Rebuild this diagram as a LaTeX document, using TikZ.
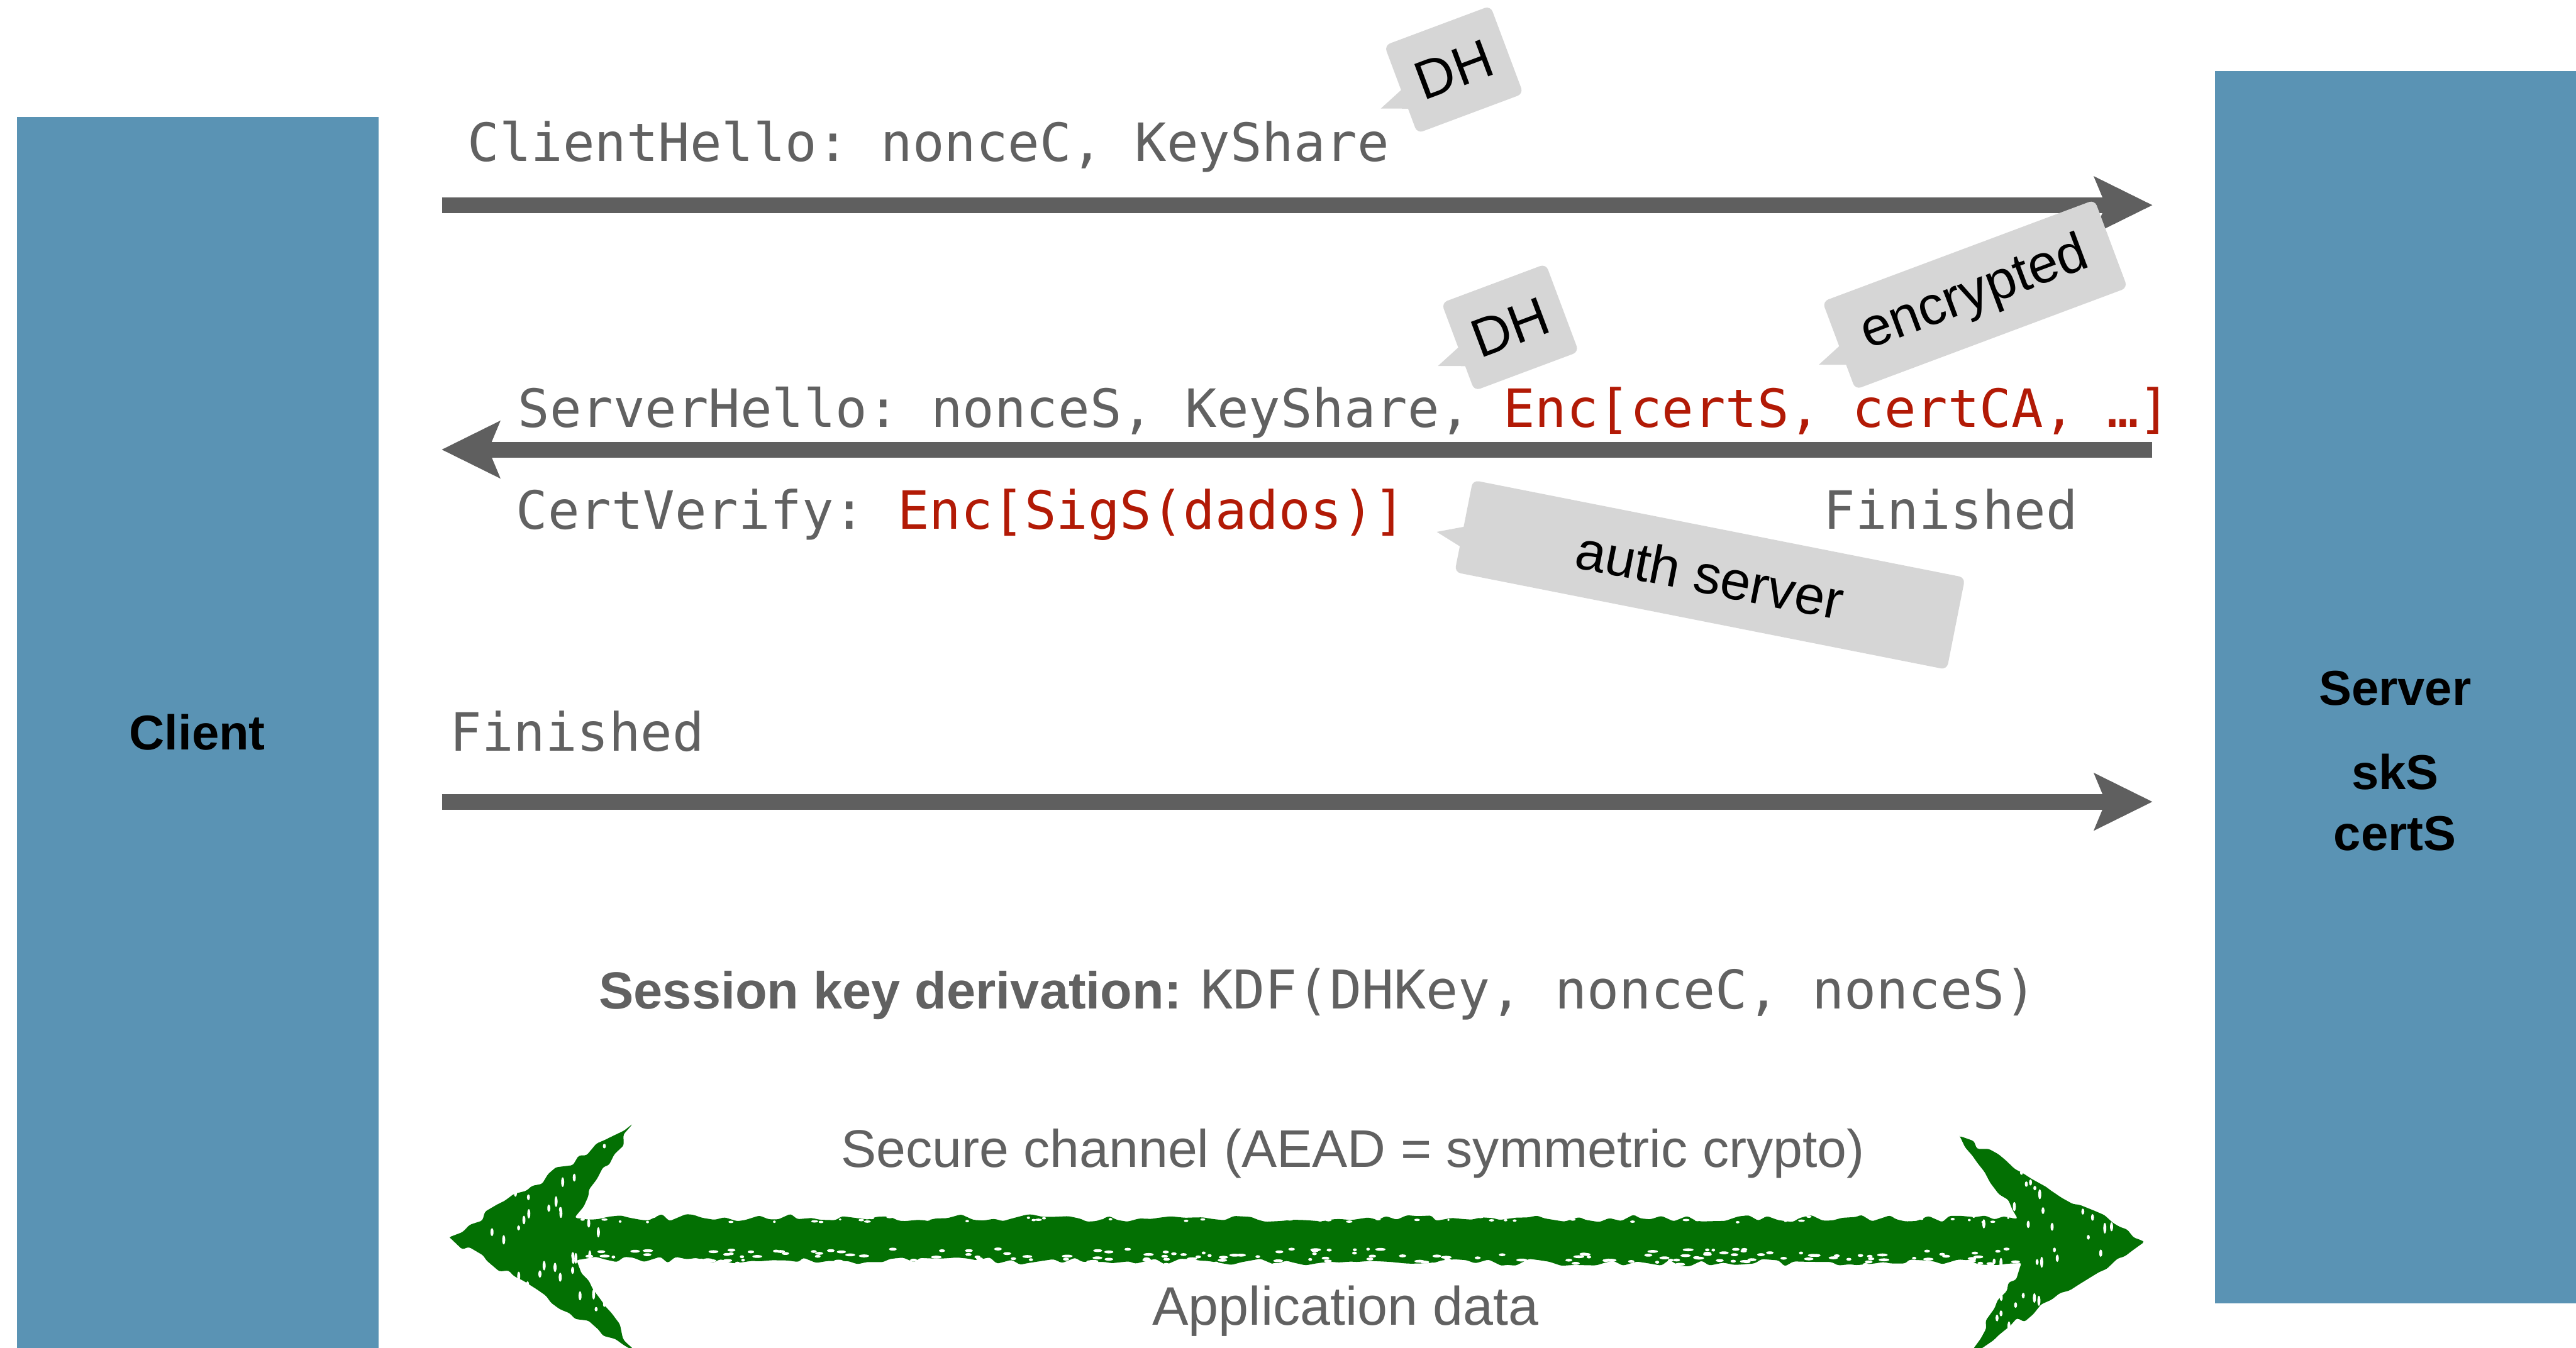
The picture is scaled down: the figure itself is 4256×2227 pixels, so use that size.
\documentclass[tikz,border=0pt]{standalone}
\usepackage{fontspec}
\setmainfont{Liberation Sans}
\setmonofont{DejaVu Sans Mono}
\usetikzlibrary{arrows.meta,decorations.pathmorphing,calc}
\definecolor{boxblue}{HTML}{5A93B4}
\definecolor{arrgray}{HTML}{5F5F5F}
\definecolor{txtgray}{HTML}{616161}
\definecolor{encred}{HTML}{B21A06}
\definecolor{bubblegray}{HTML}{D6D6D6}
\definecolor{chgreen}{HTML}{037003}
\tikzset{
  msg/.style={draw=arrgray, line width=0.26cm,
    -{Stealth[length=0.97cm, width=0.96cm, inset=0.2cm, line width=0pt]}},
  mono/.style={inner sep=0pt, anchor=base west, text=txtgray,
    font=\ttfamily\fontsize{24.8pt}{30pt}\selectfont},
  party/.style={fill=boxblue, inner sep=0pt, anchor=north west,
    minimum width=5.97cm},
  partytxt/.style={inner sep=0pt, anchor=base, text=black,
    font=\bfseries\fontsize{23pt}{28pt}\selectfont},
  calloutfont/.style={inner sep=0pt, text=black,
    font=\fontsize{25.5pt}{30pt}\selectfont},
  plain/.style={inner sep=0pt, anchor=base, text=txtgray,
    font=\fontsize{25.5pt}{30pt}\selectfont},
}
\newcommand\bubblecallout[6]{%
  \begin{scope}[shift={(#2,#3)}, rotate=#4]
    \fill[bubblegray, rounded corners=0.1cm] (-#5/2,-77.5) rectangle (#5/2,77.5);
    \fill[bubblegray] (-#5/2+8,-2) -- (-#5/2-42,18) -- (-#5/2+8,37) -- cycle;
    \node[transform shape, calloutfont] (#1) at (0,0) {#6};
  \end{scope}}
\begin{document}
\begin{tikzpicture}[x=0.01cm, y=-0.01cm]
\useasboundingbox (0,0) rectangle (4256,2227);
\fill[white] (0,0) rectangle (4256,2227);

% parties
\node[party, minimum height=20.34cm] (client) at (27,193) {};
\node[party, minimum height=20.35cm] (server) at (3659,117) {};
\node[partytxt] (clientname) at (326,1239) {Client};
\node[partytxt] (servername) at (3957,1165) {Server};
\node[partytxt] (sks) at (3957,1305) {skS};
\node[partytxt] (certs) at (3957,1405) {certS};

% message arrows
\coordinate (m1a) at (730,339);  \coordinate (m1b) at (3556,339);
\coordinate (m2a) at (3556,743); \coordinate (m2b) at (730,743);
\coordinate (m3a) at (730,1325); \coordinate (m3b) at (3556,1325);
\draw[msg] (m1a) -- (m1b);
\draw[msg] (m2a) -- (m2b);
\draw[msg] (m3a) -- (m3b);

% message texts
\node[mono] (clienthello) at (772,266) {ClientHello: nonceC, KeyShare};
\node[mono] (serverhello) at (855,706) {ServerHello: nonceS, KeyShare, \textcolor{encred}{Enc[certS, certCA, …]}};
\node[mono] (certverify) at (852,874) {CertVerify: \textcolor{encred}{Enc[SigS(dados)]}};
\node[mono] (finS) at (3012,874) {Finished};
\node[mono] (finC) at (743,1241) {Finished};

% key derivation
\node[inner sep=0pt, anchor=base west, text=txtgray] (kdf) at (989,1667)
  {\fontsize{24.5pt}{30pt}\selectfont\bfseries Session key derivation: \mdseries\ttfamily\fontsize{25.1pt}{30pt}\selectfont KDF(DHKey, nonceC, nonceS)};

% secure channel (hand drawn green double arrow)
\pgfmathsetseed{42}
\fill[chgreen, rounded corners=1pt, decorate,
      decoration={random steps, segment length=5pt, amplitude=1.8pt}]
  (743,2045) -- (1045,1858) -- (950,2012) -- (3333,2014) -- (3237,1877)
  -- (3542,2052) -- (3258,2232) -- (3340,2088) -- (953,2082) -- (1050,2234) -- cycle;
\foreach \i in {1,...,190}{
  \pgfmathsetmacro\xx{960+2370*rnd}
  \pgfmathsetmacro\yy{2064+26*rnd}
  \fill[white] (\xx,\yy) ellipse ({3+6*rnd} and 2.4);}
\foreach \i in {1,...,60}{
  \pgfmathsetmacro\xx{960+2370*rnd}
  \pgfmathsetmacro\yy{2010+10*rnd}
  \fill[white] (\xx,\yy) ellipse ({2+4*rnd} and 2);}
\foreach \i in {1,...,55}{
  \pgfmathsetmacro\xx{790+240*rnd}
  \pgfmathsetmacro\yy{1890+320*rnd}
  \fill[white] (\xx,\yy) ellipse (2.5 and {3+6*rnd});}
\foreach \i in {1,...,55}{
  \pgfmathsetmacro\xx{3260+250*rnd}
  \pgfmathsetmacro\yy{1900+310*rnd}
  \fill[white] (\xx,\yy) ellipse (2.5 and {3+6*rnd});}
\node[plain, font=\fontsize{24.9pt}{30pt}\selectfont] (securech) at (2235,1929) {Secure channel (AEAD = symmetric crypto)};
\node[plain] (appdata) at (2223,2190) {Application data};

% callouts
\bubblecallout{dhC}{2402}{115}{20.5}{187}{DH}
\bubblecallout{dhS}{2495}{541}{20.5}{184}{DH}
\bubblecallout{encr}{3263}{487}{20.5}{480}{encrypted}
\bubblecallout{auth}{2825}{950}{-11.2}{829}{auth server}
\end{tikzpicture}
\end{document}
